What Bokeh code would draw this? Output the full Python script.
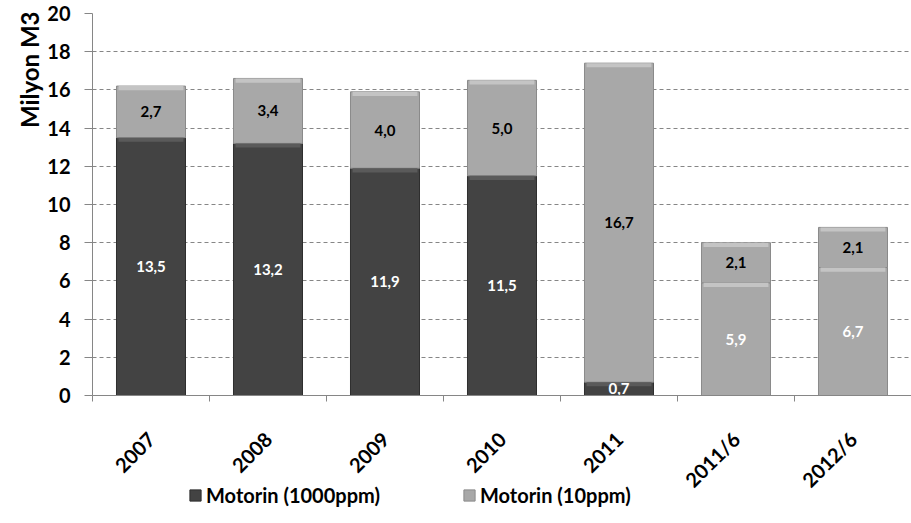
from math import pi
from bokeh.plotting import figure
from bokeh.layouts import column
from bokeh.models import (Range1d, FixedTicker, Legend, LegendItem,
                          ColumnDataSource, Title)
from bokeh.core.properties import value
from bokeh.embed import file_html
from bokeh.resources import INLINE

# ---- data ----
categories = ["2007", "2008", "2009", "2010", "2011", "2011/6", "2012/6"]
motorin_1000 = [13.5, 13.2, 11.9, 11.5, 0.7, 5.9, 6.7]
motorin_10 = [2.7, 3.4, 4.0, 5.0, 16.7, 2.1, 2.1]
bottom_shown_light = [False, False, False, False, False, True, True]
y_ticks = list(range(0, 21, 2))

# ---- style ----
FONT = "Lato"
DARK = "#434343"
DARK_EDGE = "#2e2e2e"
DARK_BEVEL = "#5a5a5a"
LIGHT = "#a8a8a8"
LIGHT_EDGE = "#8a8a8a"
LIGHT_BEVEL = "#c4c4c4"
AXIS = "#868686"
BAR_W = 0.59

n = len(categories)
xs = [i + 0.5 for i in range(n)]
tops = [a + b for a, b in zip(motorin_1000, motorin_10)]


def fmt(v):
    return f"{v:.1f}".replace(".", ",")


src = ColumnDataSource(dict(
    x=xs,
    m1000=motorin_1000,
    tot=tops,
    c_bot=[LIGHT if l else DARK for l in bottom_shown_light],
    e_bot=[LIGHT_EDGE if l else DARK_EDGE for l in bottom_shown_light],
    bev_bot=[LIGHT_BEVEL if l else DARK_BEVEL for l in bottom_shown_light],
    bev_bot_b=[max(v - 0.22, 0) for v in motorin_1000],
    bev_top_b=[t - 0.22 for t in tops],
    y_lbl_bot=[v / 2 for v in motorin_1000],
    y_lbl_top=[a + b / 2 for a, b in zip(motorin_1000, motorin_10)],
    lbl_bot=[fmt(v) for v in motorin_1000],
    lbl_top=[fmt(v) for v in motorin_10],
))

p = figure(width=911, height=503, output_backend="svg", toolbar_location=None,
           x_range=Range1d(0, n), y_range=Range1d(0, 20),
           min_border_left=92, min_border_right=0, min_border_top=13,
           min_border_bottom=108)
p.outline_line_color = None
p.background_fill_color = "white"
p.border_fill_color = "white"

# grid
p.xgrid.visible = False
p.ygrid.ticker = FixedTicker(ticks=y_ticks[1:])
p.ygrid.grid_line_color = AXIS
p.ygrid.grid_line_dash = "4 3"
p.ygrid.grid_line_width = 1

# y axis
p.yaxis.ticker = FixedTicker(ticks=y_ticks)
p.yaxis.axis_line_color = AXIS
p.yaxis.major_tick_line_color = AXIS
p.yaxis.major_tick_out = 8
p.yaxis.major_tick_in = 0
p.yaxis.minor_tick_line_color = None
p.yaxis.major_label_text_font = FONT
p.yaxis.major_label_text_font_style = "bold"
p.yaxis.major_label_text_font_size = "20px"
p.yaxis.major_label_text_color = "black"
p.yaxis.major_label_standoff = 14

# y axis title, placed at the top of the left side
ytitle = Title(text="Milyon M3", align="right", offset=-2, standoff=2,
               text_font=FONT, text_font_style="bold", text_font_size="24px",
               text_color="black")
p.add_layout(ytitle, "left")

# x axis
p.xaxis.ticker = FixedTicker(ticks=xs, minor_ticks=list(range(n + 1)))
p.xaxis.major_label_overrides = {x: c for x, c in zip(xs, categories)}
p.xaxis.axis_line_color = AXIS
p.xaxis.major_tick_line_color = None
p.xaxis.minor_tick_line_color = AXIS
p.xaxis.minor_tick_out = 6
p.xaxis.minor_tick_in = 0
p.xaxis.major_label_orientation = pi / 4
p.xaxis.major_label_text_font = FONT
p.xaxis.major_label_text_font_style = "bold"
p.xaxis.major_label_text_font_size = "20px"
p.xaxis.major_label_text_color = "black"
p.xaxis.major_label_standoff = 34

# bars
r1 = p.vbar(x="x", bottom=0, top="m1000", width=BAR_W, fill_color="c_bot",
            line_color="e_bot", line_width=1, source=src)
r2 = p.vbar(x="x", bottom="m1000", top="tot", width=BAR_W, fill_color=LIGHT,
            line_color=LIGHT_EDGE, line_width=1, source=src)
# bevel highlights
p.vbar(x="x", bottom="bev_bot_b", top="m1000", width=BAR_W - 0.035,
       fill_color="bev_bot", line_color=None, source=src)
p.vbar(x="x", bottom="bev_top_b", top="tot", width=BAR_W - 0.035,
       fill_color=LIGHT_BEVEL, line_color=None, source=src)

# labels
p.text(x="x", y="y_lbl_bot", text="lbl_bot", source=src,
       text_align="center", text_baseline="middle",
       text_font=value(FONT), text_font_style="bold", text_font_size="15px",
       text_color="white")
p.text(x="x", y="y_lbl_top", text="lbl_top", source=src,
       text_align="center", text_baseline="middle",
       text_font=value(FONT), text_font_style="bold", text_font_size="15px",
       text_color="black")

# ---- legend strip below the chart (series glyphs kept out of view) ----
lf = figure(width=911, height=41, output_backend="svg", toolbar_location=None,
            x_range=Range1d(100, 101), y_range=Range1d(100, 101),
            x_axis_location=None, y_axis_location=None,
            min_border=0, margin=(-21, 0, 0, 0))
lf.outline_line_color = None
lf.background_fill_alpha = 0
lf.border_fill_alpha = 0
lf.xgrid.visible = False
lf.ygrid.visible = False
lr1 = lf.vbar(x="x", bottom=0, top="m1000", width=BAR_W, fill_color="c_bot",
              line_color="e_bot", source=src)
lr2 = lf.vbar(x="x", bottom="m1000", top="tot", width=BAR_W, fill_color=LIGHT,
              line_color=LIGHT_EDGE, source=src)

legend = Legend(items=[
    LegendItem(label="Motorin (1000ppm)", renderers=[lr1], index=0),
    LegendItem(label="Motorin (10ppm)", renderers=[lr2], index=0),
], orientation="horizontal", location=(96, 16))
legend.background_fill_alpha = 0
legend.border_line_color = None
legend.padding = 0
legend.margin = 0
legend.spacing = 82
legend.label_standoff = 4
legend.glyph_width = 14
legend.glyph_height = 14
legend.label_text_font = FONT
legend.label_text_font_style = "bold"
legend.label_text_font_size = "20px"
legend.label_text_color = "black"
lf.add_layout(legend)

layout = column(p, lf, spacing=0)
open("out.html", "w").write(file_html(layout, INLINE))
